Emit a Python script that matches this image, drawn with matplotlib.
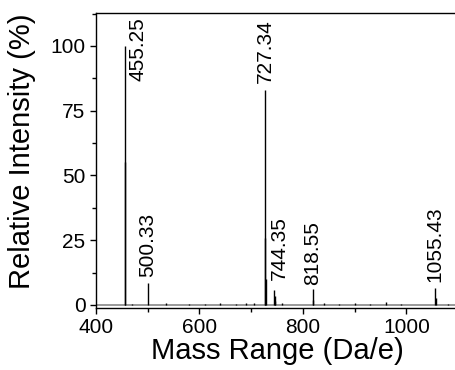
import numpy as np
import matplotlib.pyplot as plt
from matplotlib.ticker import MultipleLocator

plt.rcParams['font.family'] = ['Liberation Sans', 'DejaVu Sans']

# peak list (m/z, relative intensity %)
masses = [455.25, 455.9, 470.0, 500.33, 535.0, 580.0, 610.0, 640.0, 670.0,
          690.0, 705.0, 726.6, 727.34, 728.3, 744.35, 745.4, 746.5, 760.0,
          818.55, 819.5, 840.0, 870.0, 900.0, 930.0, 960.0, 990.0, 1055.43,
          1056.5, 1080.0]
intens = [100, 55, 0.5, 8.5, 0.6, 0.5, 0.4, 0.6, 0.5,
          0.8, 0.7, 26, 83, 10, 5.8, 3.5, 1.5, 0.8,
          6.2, 2.0, 0.6, 0.5, 0.6, 0.5, 1.2, 0.5, 6.6,
          2.5, 0.4]

labels = ['455.25', '500.33', '727.34', '744.35', '818.55', '1055.43']
label_x = [482, 500.33, 727.34, 755, 818.55, 1055.43]
label_y = [111.2, 10.8, 85.7, 9.7, 7.7, 8.9]

fig = plt.figure(figsize=(4.55, 3.7), dpi=100)
ax = fig.add_axes([0.211, 0.1676, 0.796, 0.797])

ax.axhline(0, color='#888888', lw=1.2, zorder=1)
ax.vlines(masses, 0, intens, color='black', lw=1.0, zorder=2)

for s, x, y in zip(labels, label_x, label_y):
    va = 'top' if s == '455.25' else 'bottom'
    ax.text(x, y, s, rotation=90, ha='center', va=va, fontsize=15)

ax.set_xlim(400, 1100)
ax.set_ylim(-1.2, 112.7)
ax.xaxis.set_major_locator(MultipleLocator(200))
ax.xaxis.set_minor_locator(MultipleLocator(100))
ax.yaxis.set_major_locator(MultipleLocator(25))
ax.yaxis.set_minor_locator(MultipleLocator(12.5))
ax.tick_params(which='major', direction='out', length=4, width=1, labelsize=15)
ax.tick_params(which='minor', direction='out', length=3, width=1)
ax.spines['right'].set_visible(False)
for sp in ['left', 'top', 'bottom']:
    ax.spines[sp].set_linewidth(1.0)

ax.set_xlabel('Mass Range (Da/e)', fontsize=21, labelpad=0)
ax.set_ylabel('Relative Intensity (%)', fontsize=21, labelpad=6)
ax.yaxis.set_label_coords(-0.165, 0.53)

fig.savefig('out.png', dpi=100)
